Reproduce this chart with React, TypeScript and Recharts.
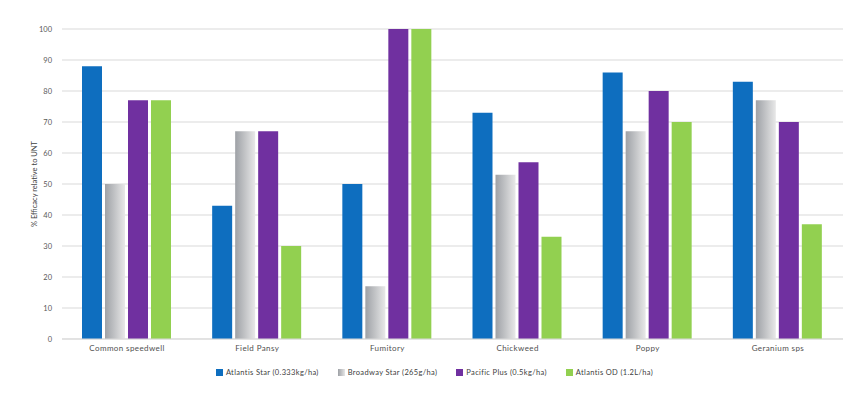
import { Bar, BarChart, CartesianGrid, Legend, XAxis, YAxis } from 'recharts'

const weeds = ['Common speedwell', 'Field Pansy', 'Fumitory', 'Chickweed', 'Poppy', 'Geranium sps']
const atlantisStar = [88, 43, 50, 73, 86, 83]
const broadwayStar = [50, 67, 17, 53, 67, 77]
const pacificPlus = [77, 67, 100, 57, 80, 70]
const atlantisOD = [77, 30, 100, 33, 70, 37]
const yTicks = [0, 10, 20, 30, 40, 50, 60, 70, 80, 90, 100]

const series = [
  { key: 'atlantisStar', name: 'Atlantis Star (0.333kg/ha)', fill: '#0e6ebf' },
  { key: 'broadwayStar', name: 'Broadway Star (265g/ha)', fill: 'url(#grayGrad)' },
  { key: 'pacificPlus', name: 'Pacific Plus (0.5kg/ha)', fill: '#7030a0' },
  { key: 'atlantisOD', name: 'Atlantis OD (1.2L/ha)', fill: '#92d050' },
]

const data = weeds.map((weed, i) => ({
  weed,
  atlantisStar: atlantisStar[i],
  broadwayStar: broadwayStar[i],
  pacificPlus: pacificPlus[i],
  atlantisOD: atlantisOD[i],
}))

const font = 'Lato, "Open Sans", sans-serif'

function LegendRow() {
  return (
    <div style={{ height: 35, boxSizing: 'border-box', paddingTop: 9, paddingLeft: 26, display: 'flex', justifyContent: 'center', alignItems: 'flex-start', gap: 19, fontFamily: font, fontSize: 7.5, lineHeight: '9px', color: '#404040', letterSpacing: 0.35 }}>
      {series.map((s) => (
        <div key={s.key} style={{ display: 'flex', alignItems: 'center', gap: 3 }}>
          <svg width={7} height={7}>
            <defs>
              <linearGradient id={'lg' + s.key} x1="0" x2="1" y1="0" y2="0">
                <stop offset="0%" stopColor="#9ea1a6" />
                <stop offset="100%" stopColor="#e6e6e6" />
              </linearGradient>
            </defs>
            <rect width={7} height={7} fill={s.key === 'broadwayStar' ? 'url(#lg' + s.key + ')' : s.fill} />
          </svg>
          <span>{s.name}</span>
        </div>
      ))}
    </div>
  )
}

export default function App() {
  return (
    <div style={{ position: 'absolute', left: 0, top: 0, background: '#fff' }}>
      <BarChart
        width={868}
        height={394}
        data={data}
        margin={{ top: 29, right: 25, left: 0, bottom: 0 }}
        barCategoryGap={20}
        barGap={3}
      >
        <defs>
          <linearGradient id="grayGrad" x1="0" x2="1" y1="0" y2="0">
            <stop offset="0%" stopColor="#9ea1a6" />
            <stop offset="100%" stopColor="#e8e8e8" />
          </linearGradient>
        </defs>
        <CartesianGrid vertical={false} stroke="#d9d9d9" strokeWidth={1} />
        <XAxis
          dataKey="weed"
          height={20}
          tickLine={false}
          axisLine={{ stroke: '#d9d9d9' }}
          tickSize={4}
          tick={{ fontFamily: font, fontSize: 8, fill: '#505050', letterSpacing: 0.4 }}
        />
        <YAxis
          width={62}
          domain={[0, 100]}
          ticks={yTicks}
          axisLine={false}
          tickLine={false}
          tickMargin={4}
          tick={{ fontFamily: font, fontSize: 7.5, fill: '#595959' }}
          label={{
            value: '% Efficacy relative to UNT',
            angle: -90,
            position: 'insideLeft',
            dx: 29,
            style: { fontFamily: font, fontSize: 7.5, fill: '#404040', textAnchor: 'middle' },
          }}
        />
        {series.map((s) => (
          <Bar key={s.key} dataKey={s.key} name={s.name} fill={s.fill} isAnimationActive={false} />
        ))}
        <Legend verticalAlign="bottom" content={() => <LegendRow />} />
      </BarChart>
    </div>
  )
}
